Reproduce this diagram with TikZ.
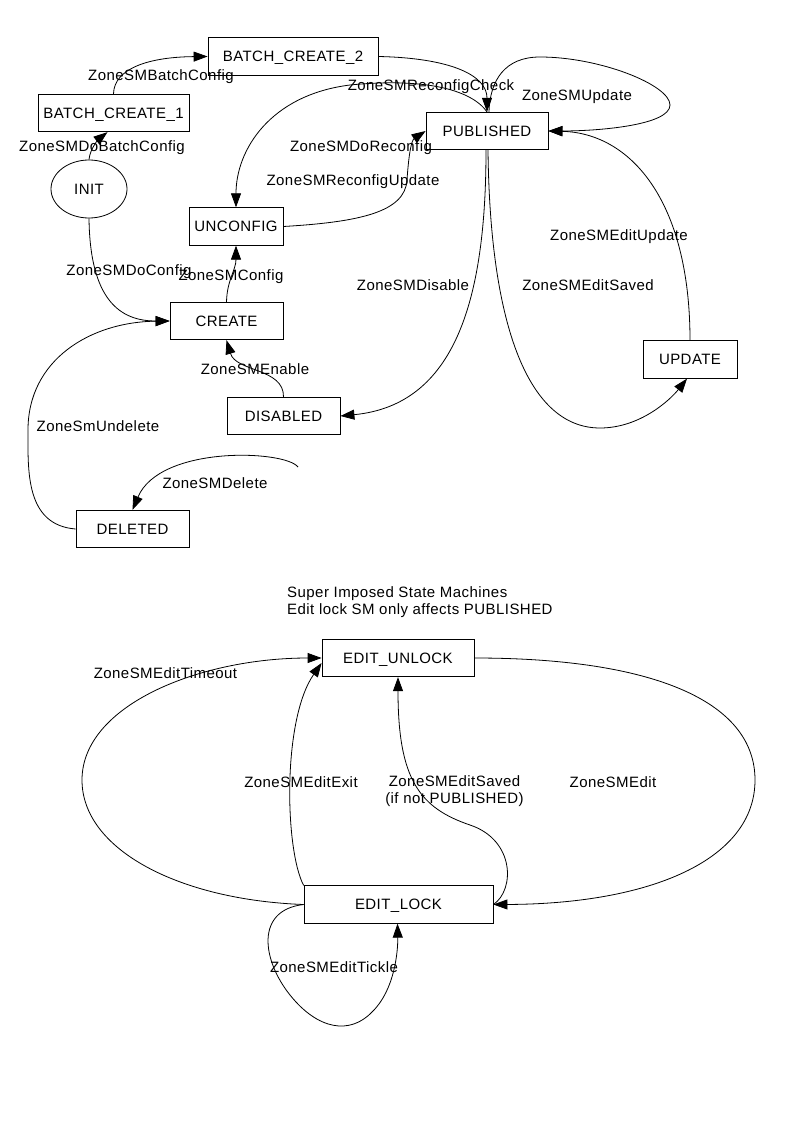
\documentclass[tikz,border=0pt]{standalone}
\usepackage{fontspec}
\setmainfont{Liberation Sans}[LetterSpace=3]
\usetikzlibrary{arrows.meta,shapes.geometric,calc}
\begin{document}
\begin{tikzpicture}[x=1pt,y=-1pt,
  every node/.style={font=\fontsize{15pt}{17pt}\selectfont, inner sep=0pt},
  state/.style={draw, line width=0.8pt, rectangle, minimum width=#1, minimum height=37.5pt, text height=10.5pt, text depth=0pt},
  state/.default=113pt,
  initstate/.style={draw, line width=0.8pt, ellipse, minimum width=76pt, minimum height=58pt, text height=10.5pt, text depth=0pt},
  lbl/.style={align=center, yshift=-1.5pt},
  edge/.style={line width=0.8pt, -{Triangle[length=14pt,width=10pt]}}]
\fill[white] (0,0) rectangle (794,1123);
\useasboundingbox (0,0) rectangle (794,1123);

% states
\node[state=170pt] (bc2) at (293,56.5) {BATCH\_CREATE\_2};
\node[state=151pt] (bc1) at (113.5,113) {BATCH\_CREATE\_1};
\node[initstate] (init) at (89,189) {INIT};
\node[state=94pt] (unc) at (236,226.5) {UNCONFIG};
\node[state=122pt] (pub) at (487,131) {PUBLISHED};
\node[state] (cre) at (226.5,321) {CREATE};
\node[state] (dis) at (283.5,416) {DISABLED};
\node[state=94pt] (upd) at (690,359.5) {UPDATE};
\node[state] (del) at (132.5,529) {DELETED};
\node[state=152pt] (unl) at (398,658) {EDIT\_UNLOCK};
\node[state=189pt] (lock) at (398.5,904.5) {EDIT\_LOCK};
\coordinate (delfree) at (298,467);

% edges
\draw[edge] (init.north) .. controls (90,148) and (100,138) .. ($(bc1.south)+(-6,0)$);
\draw[edge] (bc1.north) .. controls (114,68) and (150,57) .. (bc2.west);
\draw[edge] (bc2.east) .. controls (450,58) and (487,75) .. (pub.north);
\draw[edge] (pub.north) .. controls (470,88) and (420,78) .. (350,85) .. controls (270,95) and (236,150) .. (unc.north);
\draw[edge] ($(pub.north)+(2,0)$) .. controls (490,80) and (505,57) .. (540,57) .. controls (600,57) and (670,85) .. (670,105) .. controls (670,125) and (600,131) .. (pub.east);
\draw[edge] ($(pub.south)+(-1,0)$) .. controls (486,300) and (455,405) .. (dis.east);
\draw[edge] ($(pub.south)+(1,0)$) .. controls (490,330) and (530,428) .. (600,428) .. controls (640,428) and (670,400) .. ($(upd.south)+(-3,0)$);
\draw[edge] (upd.north) .. controls (690,200) and (630,133) .. (pub.east);
\draw[edge] (unc.east) .. controls (360,222) and (405,212) .. (407,180) .. controls (409,150) and (412,140) .. (pub.west);
\draw[edge] (cre.north) .. controls (227,280) and (236,270) .. (unc.south);
\draw[edge] (init.south) .. controls (90,300) and (120,321) .. (cre.west);
\draw[edge] (dis.north) .. controls (284,368) and (236,372) .. (cre.south);
\draw[edge] (delfree) .. controls (285,450) and (160,445) .. (del.north);
\draw[edge] (del.west) .. controls (25,525) and (28,470) .. (28,430) .. controls (28,360) and (90,322) .. (cre.west);

\draw[edge] (unl.east) .. controls (650,658) and (755,700) .. (755,780) .. controls (755,860) and (650,904) .. (lock.east);
\draw[edge] (lock.west) .. controls (180,900) and (82,850) .. (82,780) .. controls (82,705) and (200,658) .. (unl.west);
\draw[edge] (lock.north west) .. controls (285,850) and (282,720) .. ($(unl.west)+(0,5)$);
\draw[edge] (lock.east) .. controls (515,890) and (515,840) .. (470,825) .. controls (420,808) and (398,780) .. (unl.south);
\draw[edge] (lock.west) .. controls (255,910) and (262,960) .. (290,995) .. controls (318,1030) and (350,1035) .. (372,1012) .. controls (395,990) and (398,950) .. ($(lock.south)+(-1,0)$);

% labels
\node[lbl] (l1) at (161,75) {ZoneSMBatchConfig};
\node[lbl] (l2) at (102,146) {ZoneSMDoBatchConfig};
\node[lbl] (l3) at (431,85) {ZoneSMReconfigCheck};
\node[lbl] (l4) at (577,95) {ZoneSMUpdate};
\node[lbl] (l5) at (361,146) {ZoneSMDoReconfig};
\node[lbl] (l6) at (353,180) {ZoneSMReconfigUpdate};
\node[lbl] (l7) at (619,235) {ZoneSMEditUpdate};
\node[lbl] (l8) at (588,284) {ZoneSMEditSaved};
\node[lbl] (l9) at (413,284) {ZoneSMDisable};
\node[lbl] (l10) at (129,270) {ZoneSMDoConfig};
\node[lbl] (l11) at (231,275) {ZoneSMConfig};
\node[lbl] (l12) at (255,368) {ZoneSMEnable};
\node[lbl] (l13) at (98,425) {ZoneSmUndelete};
\node[lbl] (l14) at (215,482) {ZoneSMDelete};
\node[lbl] (l15) at (165.5,672) {ZoneSMEditTimeout};
\node[lbl] (l16) at (301,781) {ZoneSMEditExit};
\node[lbl] (l17) at (454.5,790) {ZoneSMEditSaved\\(if not PUBLISHED)};
\node[lbl] (l18) at (613,781) {ZoneSMEdit};
\node[lbl] (l19) at (334,966) {ZoneSMEditTickle};
\node[align=left, anchor=west, yshift=-1.5pt] (title) at (287,600.5) {Super Imposed State Machines\\Edit lock SM only affects PUBLISHED};
\end{tikzpicture}
\end{document}
